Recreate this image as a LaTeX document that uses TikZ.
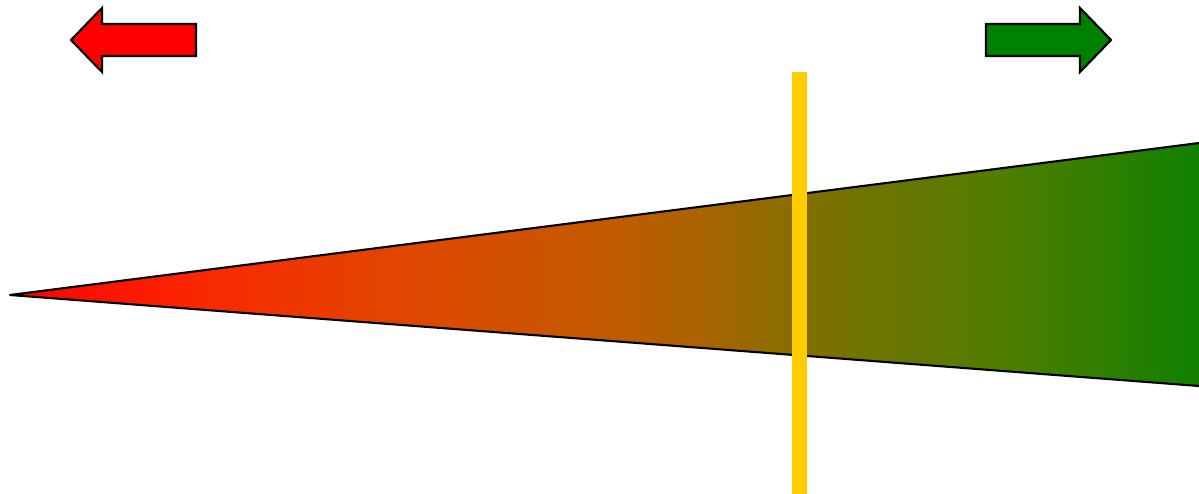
\documentclass[tikz,border=0pt]{standalone}
\usepackage{tikz}
\usetikzlibrary{calc}

\definecolor{shiftred}{RGB}{255,0,0}
\definecolor{shiftgreen}{RGB}{0,128,0}
\definecolor{cutyellow}{RGB}{255,204,0}

% red to green ramp across the wedge (25bp..75bp is the path box)
\pgfdeclarehorizontalshading{wedgeramp}{100bp}{%
  rgb(0bp)=(1,0,0); rgb(25bp)=(1,0,0);
  rgb(33bp)=(0.98,0.157,0);
  rgb(41.4bp)=(0.882,0.275,0);
  rgb(49.8bp)=(0.765,0.353,0);
  rgb(54bp)=(0.667,0.392,0);
  rgb(60.3bp)=(0.451,0.451,0);
  rgb(66.6bp)=(0.314,0.49,0);
  rgb(75bp)=(0.063,0.502,0); rgb(100bp)=(0.063,0.502,0)}

\begin{document}
\begin{tikzpicture}[
    x=0.01cm,
    y=-0.01cm,
    movearrow/.style={draw=black, line width=0.6pt, line join=miter},
    edge/.style={draw=black, line width=0.6pt, line join=round},
    cutbar/.style={fill=cutyellow, draw=none}
]
\useasboundingbox (0,0) rectangle (1199,494);

% direction arrows
\filldraw[movearrow, fill=shiftred] (71,40) -- (102,8) -- (102,24) -- (196,24) -- (196,56) -- (102,56) -- (102,72) -- cycle;
\filldraw[movearrow, fill=shiftgreen] (1111,40) -- (1080,8) -- (1080,24) -- (986,24) -- (986,56) -- (1080,56) -- (1080,72) -- cycle;

% wedge
\coordinate (tip) at (10,295);
\coordinate (topend) at (1199,143);
\coordinate (botend) at (1199,386);
\shade[shading=wedgeramp] (tip) -- (topend) -- (botend) -- cycle;
\draw[edge] (botend) -- (tip) -- (topend);

% threshold bar
\fill[cutbar] (792,72) rectangle (807,494);
\end{tikzpicture}
\end{document}
